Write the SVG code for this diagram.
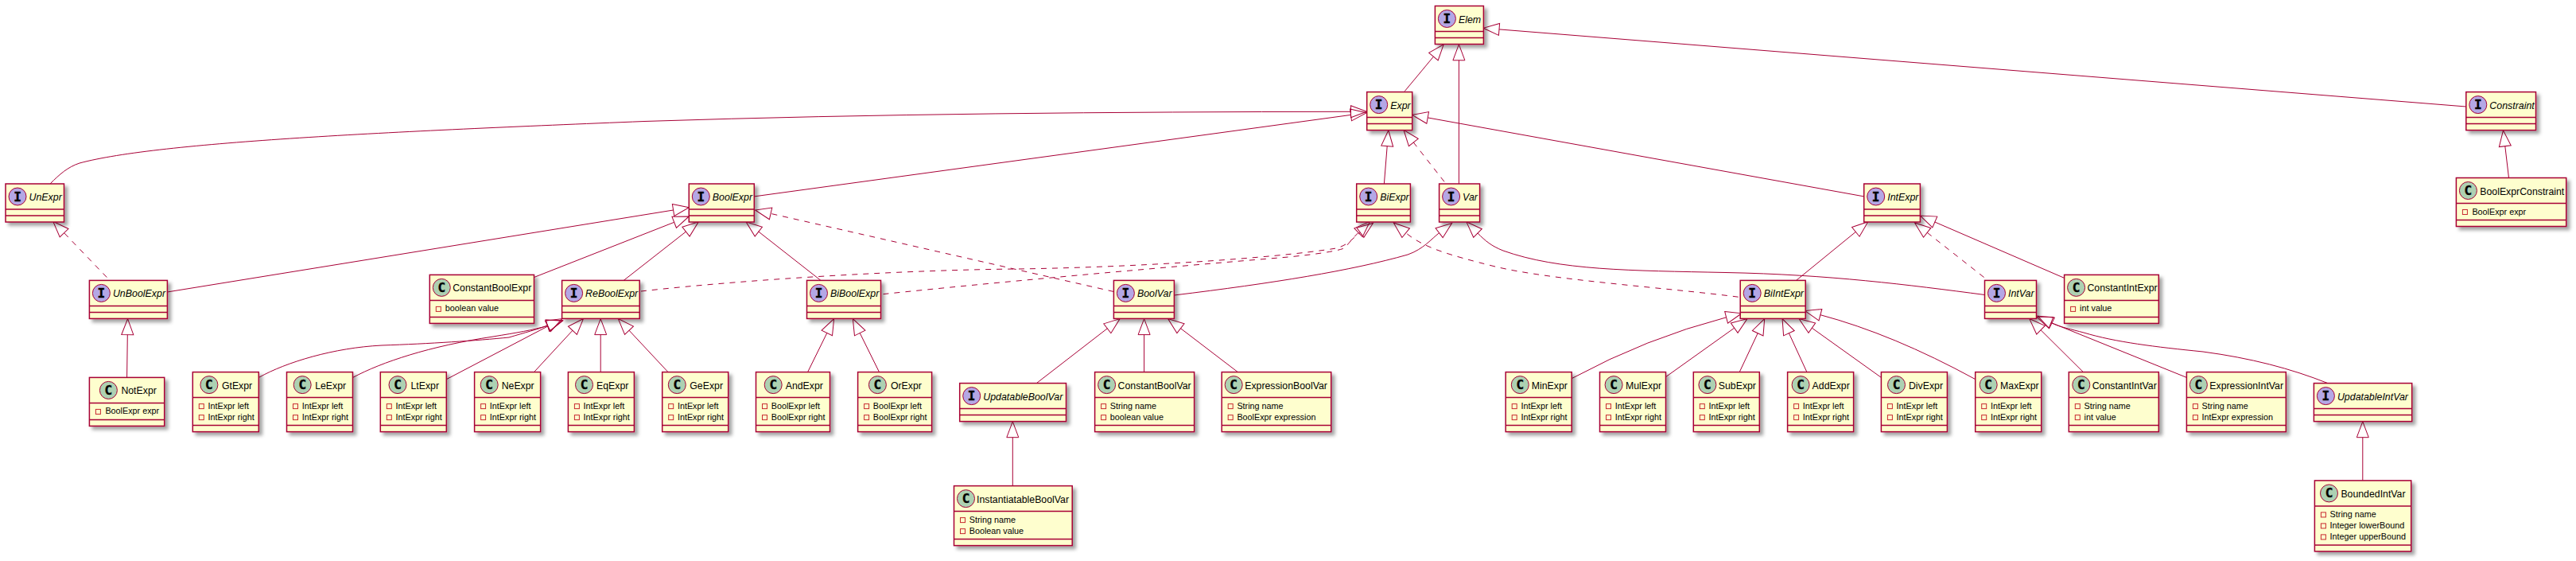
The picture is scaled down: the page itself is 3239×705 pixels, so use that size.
<svg xmlns="http://www.w3.org/2000/svg" width="3239" height="705" viewBox="0 0 3239 705">
<style>
.bg{fill:#fff}
.b{fill:#FEFECE;stroke:#A80036;stroke-width:1.5;filter:url(#s)}
.d{stroke:#A80036;stroke-width:1.5}
.ci{fill:#B4A7E5;stroke:#A80036;stroke-width:1}
.cc{fill:#ADD1B2;stroke:#A80036;stroke-width:1}
.g{font:bold 16px "DejaVu Sans Mono","Liberation Mono",monospace;text-anchor:middle;fill:#000;stroke:#000;stroke-width:.4}
.n{font:12.3px "Liberation Sans",Arial,sans-serif;fill:#000}
.i{font:italic 12.4px "Liberation Sans",Arial,sans-serif;fill:#000}
.m{font:10.8px "Liberation Sans",Arial,sans-serif;fill:#000}
.p{fill:none;stroke:#C82930;stroke-width:1}
#connectors path{fill:none;stroke:#A80036;stroke-width:1;marker-end:url(#h)}
#connectors path.da{stroke-dasharray:7,7}
</style>
<defs>
<filter id="s" x="-15%" y="-15%" width="140%" height="150%"><feDropShadow dx="4" dy="4" stdDeviation="2" flood-color="#000" flood-opacity=".36"/></filter>
<marker id="h" markerUnits="userSpaceOnUse" markerWidth="24" markerHeight="18" refX="0" refY="8" orient="auto" overflow="visible"><polygon points="0,.5 20,8 0,15.5" fill="none" stroke="#A80036" stroke-width="1"/></marker>
</defs>
<rect class="bg" width="3239" height="705"/>
<g id="connectors">
<path d="M1766.2,114.7L1802.4,71.2"/>
<path d="M1834.4,231V75.8"/>
<path d="M3100.8,134L1885,36.9"/>
<path d="M3154.5,223.5L3149.8,183.7"/>
<path d="M1740.4,231L1744.2,183.7"/>
<path class="da" d="M1816,228.3L1777.3,179"/>
<path d="M2343.7,246.9L1795.2,147.9"/>
<path d="M63,231C75,219 85,210 100,205C200,178 500,165 810,152.5C1100,143 1400,140.5 1698.5,140.3"/>
<path d="M948.4,246.9L1698.5,144.4"/>
<path d="M1476.3,371C1600,356 1700,340 1770,320C1790,313 1800,300 1809.6,292.7"/>
<path d="M2495.5,370.5C2400,358 2300,345 2170,342.5C2050,340 1960,340 1890,315C1875,309 1868,303 1858,293"/>
<path class="da" d="M2494.6,348.5L2423.2,292.3"/>
<path d="M2595.6,349.4L2432.8,279"/>
<path d="M2258.4,352.5L2333.3,291.4"/>
<path class="da" d="M2185.6,373.2C2100,362 1950,352 1880,335C1820,320 1790,311 1767.7,292.7"/>
<path class="da" d="M806,366C950,350 1150,339 1280,338C1420,336 1600,325 1680,312C1695,308 1700,300 1710.4,292.3"/>
<path class="da" d="M1110.6,369.6C1250,355 1450,337 1620,323C1650,320 1680,316 1690,312C1697,305 1702,298 1708,292.3"/>
<path class="da" d="M1400.4,366.5L969.1,268.4"/>
<path d="M210.2,367L846.6,264"/>
<path d="M671.5,348.5L847.7,279.3"/>
<path d="M784.1,352.5L862.5,291.1"/>
<path d="M1032.1,352.5L953.8,291.1"/>
<path d="M159.6,474.4L160.3,420.6"/>
<path class="da" d="M134.3,348.5L80.6,292.7"/>
<path d="M325.4,474.4C360,455 420,437 480,434C540,432 600,428 640,424C660,418 675,414 688.5,409.2"/>
<path d="M443.7,474.4C480,455 540,435 620,423C650,418 670,415 688.5,409.2"/>
<path d="M561.5,476.6L688.9,409.9"/>
<path d="M671.5,467.6L719.9,415.3"/>
<path d="M755.2,467.6V420.6"/>
<path d="M840,467.6L791,415.2"/>
<path d="M1015.6,467.6L1039.8,418.5"/>
<path d="M1105.5,467.6L1081.2,418.5"/>
<path d="M1303.3,481.6L1392.3,412.8"/>
<path d="M1438.6,467.6V420.6"/>
<path d="M1556.4,467.6L1484.5,412.7"/>
<path d="M1273.3,610.6V549.7"/>
<path d="M1976.9,475.3Q2070,425 2170.6,398.8"/>
<path d="M2094.7,473.5L2180.7,412.2"/>
<path d="M2187.2,467.6L2210.2,418.7"/>
<path d="M2271.9,467.6L2249.4,418.7"/>
<path d="M2365.4,474.4L2278.3,412.2"/>
<path d="M2483.7,476.6Q2380,420 2288.9,395.7"/>
<path d="M2619.4,467.6L2566,414.7"/>
<path d="M2749.4,474.4L2579,405.5"/>
<path d="M2926.9,481.6C2880,463 2830,450 2770,442C2710,436 2660,430 2620,418C2605,414 2590,411 2580,406"/>
<path d="M2970.8,603.9V549.7"/>
</g>
<g id="Elem" transform="translate(1804.4,7.5)"><rect class="b" width="61" height="48"/><path class="d" d="M0,32H61M0,40H61"/><circle class="ci" cx="15" cy="16" r="11"/><text class="g" x="15" y="21.5">I</text><text class="i" x="29.5" y="21">Elem</text></g>
<g id="Expr" transform="translate(1718.7,115.6)"><rect class="b" width="57" height="48"/><path class="d" d="M0,32H57M0,40H57"/><circle class="ci" cx="15" cy="16" r="11"/><text class="g" x="15" y="21.5">I</text><text class="i" x="29.5" y="21">Expr</text></g>
<g id="Constraint" transform="translate(3100.8,115.6)"><rect class="b" width="87.7" height="48"/><path class="d" d="M0,32H87.7M0,40H87.7"/><circle class="ci" cx="15" cy="16" r="11"/><text class="g" x="15" y="21.5">I</text><text class="i" x="29.5" y="21">Constraint</text></g>
<g id="UnExpr" transform="translate(7,231)"><rect class="b" width="73.5" height="48"/><path class="d" d="M0,32H73.5M0,40H73.5"/><circle class="ci" cx="15" cy="16" r="11"/><text class="g" x="15" y="21.5">I</text><text class="i" x="29.5" y="21">UnExpr</text></g>
<g id="BoolExpr" transform="translate(866.3,231)"><rect class="b" width="82" height="48"/><path class="d" d="M0,32H82M0,40H82"/><circle class="ci" cx="15" cy="16" r="11"/><text class="g" x="15" y="21.5">I</text><text class="i" x="29.5" y="21">BoolExpr</text></g>
<g id="BiExpr" transform="translate(1705.7,231)"><rect class="b" width="67.7" height="48"/><path class="d" d="M0,32H67.7M0,40H67.7"/><circle class="ci" cx="15" cy="16" r="11"/><text class="g" x="15" y="21.5">I</text><text class="i" x="29.5" y="21">BiExpr</text></g>
<g id="Var" transform="translate(1809.6,231)"><rect class="b" width="51" height="48"/><path class="d" d="M0,32H51M0,40H51"/><circle class="ci" cx="15" cy="16" r="11"/><text class="g" x="15" y="21.5">I</text><text class="i" x="29.5" y="21">Var</text></g>
<g id="IntExpr" transform="translate(2343.7,231)"><rect class="b" width="70.7" height="48"/><path class="d" d="M0,32H70.7M0,40H70.7"/><circle class="ci" cx="15" cy="16" r="11"/><text class="g" x="15" y="21.5">I</text><text class="i" x="29.5" y="21">IntExpr</text></g>
<g id="UnBoolExpr" transform="translate(112.4,352.4)"><rect class="b" width="98" height="48"/><path class="d" d="M0,32H98M0,40H98"/><circle class="ci" cx="15" cy="16" r="11"/><text class="g" x="15" y="21.5">I</text><text class="i" x="29.5" y="21">UnBoolExpr</text></g>
<g id="ReBoolExpr" transform="translate(706.6,352.4)"><rect class="b" width="97.6" height="48"/><path class="d" d="M0,32H97.6M0,40H97.6"/><circle class="ci" cx="15" cy="16" r="11"/><text class="g" x="15" y="21.5">I</text><text class="i" x="29.5" y="21">ReBoolExpr</text></g>
<g id="BiBoolExpr" transform="translate(1014.5,352.4)"><rect class="b" width="93" height="48"/><path class="d" d="M0,32H93M0,40H93"/><circle class="ci" cx="15" cy="16" r="11"/><text class="g" x="15" y="21.5">I</text><text class="i" x="29.5" y="21">BiBoolExpr</text></g>
<g id="BoolVar" transform="translate(1400.4,352.4)"><rect class="b" width="76" height="48"/><path class="d" d="M0,32H76M0,40H76"/><circle class="ci" cx="15" cy="16" r="11"/><text class="g" x="15" y="21.5">I</text><text class="i" x="29.5" y="21">BoolVar</text></g>
<g id="BiIntExpr" transform="translate(2188.2,352.4)"><rect class="b" width="82" height="48"/><path class="d" d="M0,32H82M0,40H82"/><circle class="ci" cx="15" cy="16" r="11"/><text class="g" x="15" y="21.5">I</text><text class="i" x="29.5" y="21">BiIntExpr</text></g>
<g id="IntVar" transform="translate(2495.5,352.4)"><rect class="b" width="65" height="48"/><path class="d" d="M0,32H65M0,40H65"/><circle class="ci" cx="15" cy="16" r="11"/><text class="g" x="15" y="21.5">I</text><text class="i" x="29.5" y="21">IntVar</text></g>
<g id="UpdatableBoolVar" transform="translate(1206.7,481.6)"><rect class="b" width="133.8" height="48"/><path class="d" d="M0,32H133.8M0,40H133.8"/><circle class="ci" cx="15" cy="16" r="11"/><text class="g" x="15" y="21.5">I</text><text class="i" x="29.5" y="21">UpdatableBoolVar</text></g>
<g id="UpdatableIntVar" transform="translate(2909.4,481.6)"><rect class="b" width="123.3" height="48"/><path class="d" d="M0,32H123.3M0,40H123.3"/><circle class="ci" cx="15" cy="16" r="11"/><text class="g" x="15" y="21.5">I</text><text class="i" x="29.5" y="21">UpdatableIntVar</text></g>

<g id="BoolExprConstraint" transform="translate(3088.4,223.5)"><rect class="b" width="138.3" height="61"/><path class="d" d="M0,32H138.3M0,53H138.3"/><circle class="cc" cx="15" cy="16" r="11"/><text class="g" x="15" y="21.5">C</text><text class="n" x="29.9" y="21">BoolExprConstraint</text><rect class="p" x="8" y="40" width="6" height="6"/><text class="m" x="20" y="46">BoolExpr expr</text></g>
<g id="ConstantBoolExpr" transform="translate(540.3,345.4)"><rect class="b" width="131.2" height="61"/><path class="d" d="M0,32H131.2M0,53H131.2"/><circle class="cc" cx="15" cy="16" r="11"/><text class="g" x="15" y="21.5">C</text><text class="n" x="28.9" y="21">ConstantBoolExpr</text><rect class="p" x="8" y="40" width="6" height="6"/><text class="m" x="19.5" y="46">boolean value</text></g>
<g id="ConstantIntExpr" transform="translate(2595.6,345.4)"><rect class="b" width="118.7" height="61"/><path class="d" d="M0,32H118.7M0,53H118.7"/><circle class="cc" cx="15" cy="16" r="11"/><text class="g" x="15" y="21.5">C</text><text class="n" x="28.9" y="21">ConstantIntExpr</text><rect class="p" x="8" y="40" width="6" height="6"/><text class="m" x="19.5" y="46">int value</text></g>
<g id="NotExpr" transform="translate(112.4,474.4)"><rect class="b" width="94.3" height="61"/><path class="d" d="M0,32H94.3M0,53H94.3"/><circle class="cc" cx="24" cy="16" r="11"/><text class="g" x="24" y="21.5">C</text><text class="n" x="40" y="21">NotExpr</text><rect class="p" x="8" y="40" width="6" height="6"/><text class="m" x="20" y="46">BoolExpr expr</text></g>

<g id="GtExpr" transform="translate(242.3,467.6)"><rect class="b" width="83" height="75"/><path class="d" d="M0,32H83M0,67H83"/><circle class="cc" cx="20.6" cy="16" r="11"/><text class="g" x="20.6" y="21.5">C</text><text class="n" x="36.6" y="21">GtExpr</text><rect class="p" x="8" y="40" width="6" height="6"/><text class="m" x="19.2" y="46">IntExpr left</text><rect class="p" x="8" y="54" width="6" height="6"/><text class="m" x="19.2" y="60">IntExpr right</text></g>
<g id="LeExpr" transform="translate(360.5,467.6)"><rect class="b" width="83" height="75"/><path class="d" d="M0,32H83M0,67H83"/><circle class="cc" cx="19.7" cy="16" r="11"/><text class="g" x="19.7" y="21.5">C</text><text class="n" x="35.7" y="21">LeExpr</text><rect class="p" x="8" y="40" width="6" height="6"/><text class="m" x="19.2" y="46">IntExpr left</text><rect class="p" x="8" y="54" width="6" height="6"/><text class="m" x="19.2" y="60">IntExpr right</text></g>
<g id="LtExpr" transform="translate(478.3,467.6)"><rect class="b" width="83" height="75"/><path class="d" d="M0,32H83M0,67H83"/><circle class="cc" cx="21.7" cy="16" r="11"/><text class="g" x="21.7" y="21.5">C</text><text class="n" x="38.2" y="21">LtExpr</text><rect class="p" x="8" y="40" width="6" height="6"/><text class="m" x="19.2" y="46">IntExpr left</text><rect class="p" x="8" y="54" width="6" height="6"/><text class="m" x="19.2" y="60">IntExpr right</text></g>
<g id="NeExpr" transform="translate(596.6,467.6)"><rect class="b" width="83" height="75"/><path class="d" d="M0,32H83M0,67H83"/><circle class="cc" cx="18.6" cy="16" r="11"/><text class="g" x="18.6" y="21.5">C</text><text class="n" x="34.1" y="21">NeExpr</text><rect class="p" x="8" y="40" width="6" height="6"/><text class="m" x="19.2" y="46">IntExpr left</text><rect class="p" x="8" y="54" width="6" height="6"/><text class="m" x="19.2" y="60">IntExpr right</text></g>
<g id="EqExpr" transform="translate(714.4,467.6)"><rect class="b" width="83" height="75"/><path class="d" d="M0,32H83M0,67H83"/><circle class="cc" cx="20.1" cy="16" r="11"/><text class="g" x="20.1" y="21.5">C</text><text class="n" x="35.6" y="21">EqExpr</text><rect class="p" x="8" y="40" width="6" height="6"/><text class="m" x="19.2" y="46">IntExpr left</text><rect class="p" x="8" y="54" width="6" height="6"/><text class="m" x="19.2" y="60">IntExpr right</text></g>
<g id="GeExpr" transform="translate(832.7,467.6)"><rect class="b" width="83" height="75"/><path class="d" d="M0,32H83M0,67H83"/><circle class="cc" cx="18.6" cy="16" r="11"/><text class="g" x="18.6" y="21.5">C</text><text class="n" x="34.6" y="21">GeExpr</text><rect class="p" x="8" y="40" width="6" height="6"/><text class="m" x="19.2" y="46">IntExpr left</text><rect class="p" x="8" y="54" width="6" height="6"/><text class="m" x="19.2" y="60">IntExpr right</text></g>
<g id="AndExpr" transform="translate(950.5,467.6)"><rect class="b" width="93" height="75"/><path class="d" d="M0,32H93M0,67H93"/><circle class="cc" cx="21.7" cy="16" r="11"/><text class="g" x="21.7" y="21.5">C</text><text class="n" x="37.2" y="21">AndExpr</text><rect class="p" x="8" y="40" width="6" height="6"/><text class="m" x="19.2" y="46">BoolExpr left</text><rect class="p" x="8" y="54" width="6" height="6"/><text class="m" x="19.2" y="60">BoolExpr right</text></g>
<g id="OrExpr" transform="translate(1078.6,467.6)"><rect class="b" width="93" height="75"/><path class="d" d="M0,32H93M0,67H93"/><circle class="cc" cx="24.8" cy="16" r="11"/><text class="g" x="24.8" y="21.5">C</text><text class="n" x="41.3" y="21">OrExpr</text><rect class="p" x="8" y="40" width="6" height="6"/><text class="m" x="19.2" y="46">BoolExpr left</text><rect class="p" x="8" y="54" width="6" height="6"/><text class="m" x="19.2" y="60">BoolExpr right</text></g>
<g id="ConstantBoolVar" transform="translate(1376.6,467.6)"><rect class="b" width="125" height="75"/><path class="d" d="M0,32H125M0,67H125"/><circle class="cc" cx="15" cy="16" r="11"/><text class="g" x="15" y="21.5">C</text><text class="n" x="29" y="21">ConstantBoolVar</text><rect class="p" x="8" y="40" width="6" height="6"/><text class="m" x="19.2" y="46">String name</text><rect class="p" x="8" y="54" width="6" height="6"/><text class="m" x="19.2" y="60">boolean value</text></g>
<g id="ExpressionBoolVar" transform="translate(1536.2,467.6)"><rect class="b" width="137.5" height="75"/><path class="d" d="M0,32H137.5M0,67H137.5"/><circle class="cc" cx="15" cy="16" r="11"/><text class="g" x="15" y="21.5">C</text><text class="n" x="29" y="21">ExpressionBoolVar</text><rect class="p" x="8" y="40" width="6" height="6"/><text class="m" x="19.2" y="46">String name</text><rect class="p" x="8" y="54" width="6" height="6"/><text class="m" x="19.2" y="60">BoolExpr expression</text></g>
<g id="InstantiatableBoolVar" transform="translate(1199.5,610.6)"><rect class="b" width="148.7" height="75"/><path class="d" d="M0,32H148.7M0,67H148.7"/><circle class="cc" cx="15" cy="16" r="11"/><text class="g" x="15" y="21.5">C</text><text class="n" x="28.5" y="21">InstantiatableBoolVar</text><rect class="p" x="8" y="40" width="6" height="6"/><text class="m" x="19.2" y="46">String name</text><rect class="p" x="8" y="54" width="6" height="6"/><text class="m" x="19.2" y="60">Boolean value</text></g>
<g id="MinExpr" transform="translate(1893.2,467.6)"><rect class="b" width="83" height="75"/><path class="d" d="M0,32H83M0,67H83"/><circle class="cc" cx="18.1" cy="16" r="11"/><text class="g" x="18.1" y="21.5">C</text><text class="n" x="32.6" y="21">MinExpr</text><rect class="p" x="8" y="40" width="6" height="6"/><text class="m" x="19.2" y="46">IntExpr left</text><rect class="p" x="8" y="54" width="6" height="6"/><text class="m" x="19.2" y="60">IntExpr right</text></g>
<g id="MulExpr" transform="translate(2011.5,467.6)"><rect class="b" width="83" height="75"/><path class="d" d="M0,32H83M0,67H83"/><circle class="cc" cx="17.6" cy="16" r="11"/><text class="g" x="17.6" y="21.5">C</text><text class="n" x="32.5" y="21">MulExpr</text><rect class="p" x="8" y="40" width="6" height="6"/><text class="m" x="19.2" y="46">IntExpr left</text><rect class="p" x="8" y="54" width="6" height="6"/><text class="m" x="19.2" y="60">IntExpr right</text></g>
<g id="SubExpr" transform="translate(2129.3,467.6)"><rect class="b" width="83" height="75"/><path class="d" d="M0,32H83M0,67H83"/><circle class="cc" cx="17.6" cy="16" r="11"/><text class="g" x="17.6" y="21.5">C</text><text class="n" x="31.5" y="21">SubExpr</text><rect class="p" x="8" y="40" width="6" height="6"/><text class="m" x="19.2" y="46">IntExpr left</text><rect class="p" x="8" y="54" width="6" height="6"/><text class="m" x="19.2" y="60">IntExpr right</text></g>
<g id="AddExpr" transform="translate(2247.6,467.6)"><rect class="b" width="83" height="75"/><path class="d" d="M0,32H83M0,67H83"/><circle class="cc" cx="16.5" cy="16" r="11"/><text class="g" x="16.5" y="21.5">C</text><text class="n" x="31" y="21">AddExpr</text><rect class="p" x="8" y="40" width="6" height="6"/><text class="m" x="19.2" y="46">IntExpr left</text><rect class="p" x="8" y="54" width="6" height="6"/><text class="m" x="19.2" y="60">IntExpr right</text></g>
<g id="DivExpr" transform="translate(2365.4,467.6)"><rect class="b" width="83" height="75"/><path class="d" d="M0,32H83M0,67H83"/><circle class="cc" cx="19.1" cy="16" r="11"/><text class="g" x="19.1" y="21.5">C</text><text class="n" x="34.6" y="21">DivExpr</text><rect class="p" x="8" y="40" width="6" height="6"/><text class="m" x="19.2" y="46">IntExpr left</text><rect class="p" x="8" y="54" width="6" height="6"/><text class="m" x="19.2" y="60">IntExpr right</text></g>
<g id="MaxExpr" transform="translate(2483.7,467.6)"><rect class="b" width="83" height="75"/><path class="d" d="M0,32H83M0,67H83"/><circle class="cc" cx="16.5" cy="16" r="11"/><text class="g" x="16.5" y="21.5">C</text><text class="n" x="31.4" y="21">MaxExpr</text><rect class="p" x="8" y="40" width="6" height="6"/><text class="m" x="19.2" y="46">IntExpr left</text><rect class="p" x="8" y="54" width="6" height="6"/><text class="m" x="19.2" y="60">IntExpr right</text></g>
<g id="ConstantIntVar" transform="translate(2601.3,467.6)"><rect class="b" width="113" height="75"/><path class="d" d="M0,32H113M0,67H113"/><circle class="cc" cx="15.5" cy="16" r="11"/><text class="g" x="15.5" y="21.5">C</text><text class="n" x="29.4" y="21">ConstantIntVar</text><rect class="p" x="8" y="40" width="6" height="6"/><text class="m" x="19.2" y="46">String name</text><rect class="p" x="8" y="54" width="6" height="6"/><text class="m" x="19.2" y="60">int value</text></g>
<g id="ExpressionIntVar" transform="translate(2749.4,467.6)"><rect class="b" width="124.9" height="75"/><path class="d" d="M0,32H124.9M0,67H124.9"/><circle class="cc" cx="15" cy="16" r="11"/><text class="g" x="15" y="21.5">C</text><text class="n" x="28.9" y="21">ExpressionIntVar</text><rect class="p" x="8" y="40" width="6" height="6"/><text class="m" x="19.2" y="46">String name</text><rect class="p" x="8" y="54" width="6" height="6"/><text class="m" x="19.2" y="60">IntExpr expression</text></g>
<g id="BoundedIntVar" transform="translate(2910.4,603.9)"><rect class="b" width="121.3" height="89"/><path class="d" d="M0,32H121.3M0,81H121.3"/><circle class="cc" cx="18.1" cy="16" r="11"/><text class="g" x="18.1" y="21.5">C</text><text class="n" x="33" y="21">BoundedIntVar</text><rect class="p" x="8" y="40" width="6" height="6"/><text class="m" x="19.2" y="46">String name</text><rect class="p" x="8" y="54" width="6" height="6"/><text class="m" x="19.2" y="60">Integer lowerBound</text><rect class="p" x="8" y="68" width="6" height="6"/><text class="m" x="19.2" y="74">Integer upperBound</text></g>
</svg>
